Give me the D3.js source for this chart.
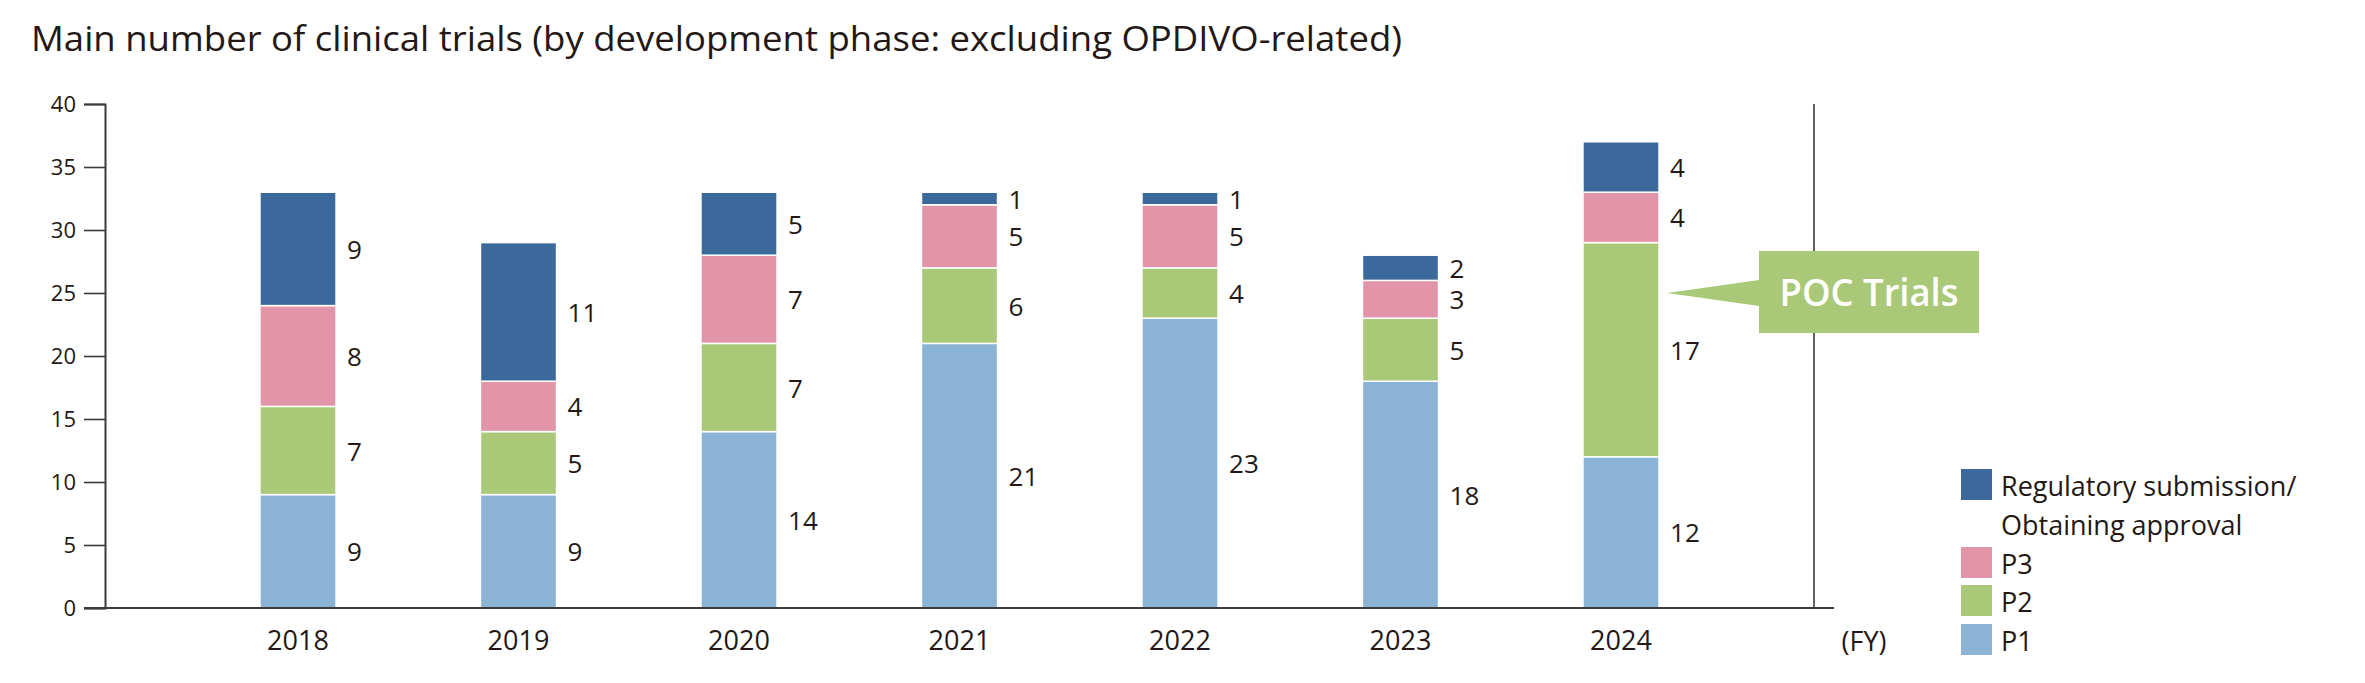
<!DOCTYPE html>
<html>
<head>
<meta charset="utf-8">
<script src="https://cdn.jsdelivr.net/npm/d3@7"></script>
<style>
  html, body { margin: 0; padding: 0; background: #fff; }
  svg { display: block; }
  text { font-family: "Open Sans", "Noto Sans", sans-serif; fill: #231815; }
</style>
</head>
<body>
<script>
// data
var years = ["2018", "2019", "2020", "2021", "2022", "2023", "2024"];
var p1 = [9, 9, 14, 21, 23, 18, 12];
var p2 = [7, 5, 7, 6, 4, 5, 17];
var p3 = [8, 4, 7, 5, 5, 3, 4];
var reg = [9, 11, 5, 1, 1, 2, 4];
var yTicks = [0, 5, 10, 15, 20, 25, 30, 35, 40];

var seriesKeys = ["p1", "p2", "p3", "reg"];
var seriesColors = {p1: "#8ab3d6", p2: "#a9c979", p3: "#e294a9", reg: "#3c699b"};
var legendItems = [
  {key: "reg", lines: ["Regulatory submission/", "Obtaining approval"]},
  {key: "p3", lines: ["P3"]},
  {key: "p2", lines: ["P2"]},
  {key: "p1", lines: ["P1"]}
];

var width = 2365, height = 683;
var axisColor = "#3e3a39";

var rows = years.map(function(y, i){
  return {year: y, p1: p1[i], p2: p2[i], p3: p3[i], reg: reg[i]};
});

var svg = d3.select("body")
  .append("svg")
  .attr("width", width)
  .attr("height", height);

var x = d3.scaleBand()
  .domain(years)
  .range([187.75, 1731.25])
  .paddingInner(0.655)
  .paddingOuter(0.3275);

var y = d3.scaleLinear()
  .domain([0, 40])
  .range([608, 104]);

// title
svg.append("text")
  .attr("x", 31)
  .attr("y", 51)
  .style("font-size", "35px")
  .attr("textLength", 1371)
  .attr("lengthAdjust", "spacingAndGlyphs")
  .text("Main number of clinical trials (by development phase: excluding OPDIVO-related)");

// right frame line (behind the callout)
svg.append("line")
  .attr("x1", 1814).attr("x2", 1814)
  .attr("y1", y(40)).attr("y2", y(0))
  .attr("stroke", axisColor)
  .attr("stroke-width", 1.6);

// y axis
var yAxis = svg.append("g")
  .attr("transform", "translate(105,0)")
  .call(d3.axisLeft(y).tickValues(yTicks).tickSize(21).tickPadding(8));
yAxis.attr("font-size", null).attr("font-family", null);
yAxis.select(".domain").attr("stroke", axisColor).attr("stroke-width", 2);
yAxis.selectAll(".tick line").attr("stroke", axisColor).attr("stroke-width", 1.6);
yAxis.selectAll(".tick text")
  .attr("fill", "#231815")
  .style("font-size", "22px");

// stacked bars
var stacked = d3.stack().keys(seriesKeys)(rows);

var groups = svg.append("g")
  .selectAll("g")
  .data(stacked)
  .join("g")
  .attr("fill", function(d){ return seriesColors[d.key]; });

groups.selectAll("rect")
  .data(function(d){ return d; })
  .join("rect")
  .attr("x", function(d){ return x(d.data.year); })
  .attr("y", function(d){ return y(d[1]); })
  .attr("width", x.bandwidth())
  .attr("height", function(d){ return y(d[0]) - y(d[1]); })
  .attr("stroke", "#fff")
  .attr("stroke-width", 1.5);

// value labels to the right of each segment
groups.selectAll("text")
  .data(function(d){ return d; })
  .join("text")
  .attr("x", function(d){ return x(d.data.year) + x.bandwidth() + 11; })
  .attr("y", function(d){ return y((d[0] + d[1]) / 2); })
  .attr("dominant-baseline", "central")
  .style("font-size", "26px")
  .text(function(d){ return d[1] - d[0]; });

// baseline
svg.append("line")
  .attr("x1", 84).attr("x2", 1834)
  .attr("y1", y(0)).attr("y2", y(0))
  .attr("stroke", axisColor)
  .attr("stroke-width", 2);

// x labels
svg.append("g")
  .selectAll("text")
  .data(years)
  .join("text")
  .attr("x", function(d){ return x(d) + x.bandwidth() / 2; })
  .attr("y", 639)
  .attr("text-anchor", "middle")
  .attr("dominant-baseline", "central")
  .style("font-size", "27px")
  .text(function(d){ return d; });

svg.append("text")
  .attr("x", 1864)
  .attr("y", 640)
  .attr("text-anchor", "middle")
  .attr("dominant-baseline", "central")
  .style("font-size", "27px")
  .text("(FY)");

// POC callout pointing at the 2024 P2 segment
var last = years[years.length - 1];
var tipX = x(last) + x.bandwidth() + 8;
var tipY = y(25);
var boxL = 1759, boxR = 1979, boxT = 251, boxB = 333;
svg.append("path")
  .attr("d", "M" + tipX + "," + tipY +
    "L" + boxL + "," + (tipY - 13) +
    "L" + boxL + "," + boxT +
    "L" + boxR + "," + boxT +
    "L" + boxR + "," + boxB +
    "L" + boxL + "," + boxB +
    "L" + boxL + "," + (tipY + 13) + "Z")
  .attr("fill", seriesColors.p2);
svg.append("text")
  .attr("x", (boxL + boxR) / 2)
  .attr("y", 306)
  .attr("text-anchor", "middle")
  .attr("textLength", 179)
  .attr("lengthAdjust", "spacingAndGlyphs")
  .style("font-size", "38px")
  .style("font-weight", "600")
  .style("fill", "#fff")
  .text("POC Trials");

// legend
var legendTops = [469, 547, 585, 624];
var legend = svg.append("g")
  .selectAll("g")
  .data(legendItems)
  .join("g")
  .attr("transform", function(d, i){ return "translate(1961," + legendTops[i] + ")"; });

legend.append("rect")
  .attr("width", 31)
  .attr("height", 31)
  .attr("fill", function(d){ return seriesColors[d.key]; });

legend.each(function(d){
  var g = d3.select(this);
  d.lines.forEach(function(line, j){
    g.append("text")
      .attr("x", 40)
      .attr("y", 27 + j * 38.5)
      .style("font-size", "27px")
      .text(line);
  });
});
</script>
</body>
</html>
